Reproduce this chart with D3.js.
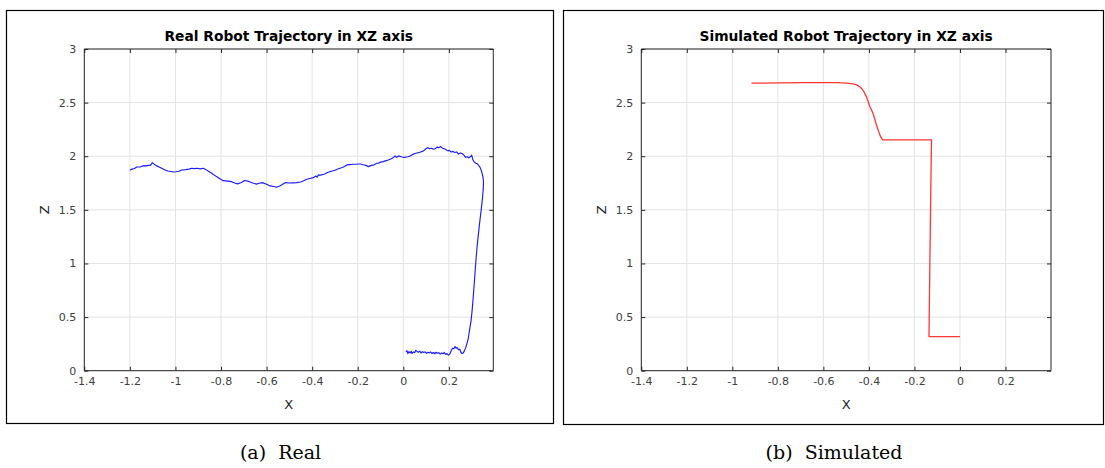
<!DOCTYPE html>
<html>
<head>
<meta charset="utf-8">
<script src="https://cdn.jsdelivr.net/npm/d3@7"></script>
<style>
  html, body { margin: 0; padding: 0; background: #fff; }
  svg { display: block; }
</style>
</head>
<body>
<svg id="chart" width="1105" height="468"></svg>
<script>
// ---- Data ----
const xTicks = [-1.4, -1.2, -1, -0.8, -0.6, -0.4, -0.2, 0, 0.2];
const zTicks = [0, 0.5, 1, 1.5, 2, 2.5, 3];

// Real robot trajectory (X, Z)
const realX = [0.012,0.016,0.020,0.025,0.030,0.035,0.038,0.044,0.050,0.055,0.060,0.066,0.072,0.078,0.084,0.090,0.096,0.102,0.108,0.114,0.120,0.126,0.132,0.138,0.144,0.150,0.156,0.162,0.168,0.174,0.180,0.186,0.192,0.198,0.204,0.208,0.212,0.217,0.222,0.227,0.232,0.237,0.242,0.248,0.253,0.258,0.263,0.268,0.274,0.280,0.285,0.291,0.297,0.302,0.307,0.312,0.316,0.320,0.324,0.329,0.334,0.339,0.344,0.348,0.351,0.352,0.350,0.346,0.340,0.336,0.330,0.325,0.318,0.310,0.305,0.300,0.294,0.287,0.280,0.273,0.266,0.258,0.250,0.242,0.234,0.226,0.218,0.210,0.202,0.196,0.188,0.180,0.172,0.164,0.156,0.148,0.140,0.132,0.124,0.116,0.108,0.100,0.092,0.084,0.076,0.068,0.060,0.052,0.044,0.036,0.028,0.020,0.010,0.000,-0.010,-0.020,-0.030,-0.036,-0.045,-0.055,-0.066,-0.076,-0.088,-0.100,-0.110,-0.117,-0.128,-0.140,-0.154,-0.165,-0.176,-0.187,-0.197,-0.210,-0.222,-0.235,-0.248,-0.258,-0.268,-0.278,-0.290,-0.300,-0.312,-0.322,-0.333,-0.345,-0.355,-0.365,-0.373,-0.378,-0.384,-0.395,-0.410,-0.424,-0.437,-0.450,-0.468,-0.485,-0.500,-0.516,-0.528,-0.540,-0.556,-0.568,-0.585,-0.600,-0.619,-0.632,-0.645,-0.658,-0.670,-0.680,-0.690,-0.699,-0.710,-0.728,-0.740,-0.753,-0.770,-0.790,-0.805,-0.820,-0.841,-0.855,-0.866,-0.878,-0.890,-0.905,-0.918,-0.928,-0.940,-0.955,-0.972,-0.985,-0.997,-1.009,-1.020,-1.033,-1.046,-1.060,-1.072,-1.082,-1.090,-1.101,-1.110,-1.120,-1.130,-1.141,-1.155,-1.170,-1.180,-1.190,-1.200];
const realZ = [0.174,0.187,0.160,0.178,0.165,0.182,0.160,0.175,0.168,0.190,0.180,0.172,0.183,0.165,0.178,0.170,0.176,0.162,0.172,0.166,0.175,0.160,0.170,0.158,0.172,0.163,0.168,0.155,0.166,0.158,0.170,0.152,0.160,0.145,0.155,0.175,0.195,0.210,0.205,0.225,0.210,0.215,0.195,0.200,0.170,0.160,0.165,0.185,0.215,0.260,0.300,0.380,0.460,0.560,0.690,0.830,0.950,1.060,1.160,1.260,1.360,1.450,1.540,1.620,1.700,1.760,1.800,1.840,1.880,1.900,1.915,1.930,1.935,1.950,1.970,2.010,1.995,1.985,1.995,1.990,2.010,2.025,2.030,2.020,2.040,2.035,2.045,2.040,2.055,2.050,2.060,2.070,2.075,2.090,2.080,2.085,2.070,2.065,2.075,2.070,2.080,2.072,2.055,2.045,2.040,2.035,2.030,2.025,2.020,2.010,2.000,1.995,1.992,1.990,1.995,2.003,1.990,2.003,1.985,1.975,1.965,1.959,1.950,1.945,1.935,1.935,1.920,1.915,1.903,1.915,1.920,1.928,1.928,1.925,1.925,1.922,1.919,1.905,1.895,1.888,1.878,1.870,1.862,1.856,1.848,1.835,1.828,1.822,1.826,1.805,1.815,1.800,1.792,1.785,1.772,1.760,1.754,1.752,1.750,1.754,1.740,1.725,1.711,1.718,1.723,1.738,1.754,1.748,1.740,1.748,1.758,1.766,1.772,1.772,1.755,1.742,1.750,1.763,1.768,1.772,1.790,1.810,1.841,1.860,1.875,1.888,1.882,1.888,1.885,1.888,1.880,1.875,1.872,1.860,1.855,1.853,1.858,1.862,1.872,1.888,1.900,1.910,1.920,1.940,1.915,1.915,1.910,1.912,1.900,1.900,1.885,1.880,1.872];

// Simulated robot trajectory (X, Z)
const simX = [-0.916,-0.800,-0.700,-0.601,-0.540,-0.498,-0.470,-0.454,-0.443,-0.433,-0.421,-0.411,-0.396,-0.382,-0.367,-0.352,-0.345,-0.338,-0.250,-0.125,-0.128,-0.131,-0.134,-0.136,-0.100,-0.050,0.000];
const simZ = [2.681,2.684,2.686,2.687,2.686,2.681,2.675,2.665,2.652,2.634,2.598,2.556,2.463,2.401,2.292,2.199,2.168,2.152,2.152,2.152,1.700,1.200,0.700,0.317,0.317,0.317,0.317];

const panels = [
  { box: [6, 10, 553, 423], plot: [84.3, 49, 493.3, 370.7], xDomain: [-1.4, 0.395],
    title: "Real Robot Trajectory in XZ axis", caption: "(a)  Real",
    xs: realX, zs: realZ, color: "#0000ff", width: 1.15 },
  { box: [563, 10, 1103, 424], plot: [641.3, 49, 1051, 370.7], xDomain: [-1.4, 0.4],
    title: "Simulated Robot Trajectory in XZ axis", caption: "(b)  Simulated",
    xs: simX, zs: simZ, color: "#ff2020", width: 1.3 }
];

const svg = d3.select("#chart");
const axisColor = "#262626";
const tickFont = "DejaVu Sans, sans-serif";

panels.forEach(p => {
  const g = svg.append("g");
  const [bx0, by0, bx1, by1] = p.box;
  g.append("rect").attr("x", bx0 + 0.5).attr("y", by0 + 0.5)
    .attr("width", bx1 - bx0).attr("height", by1 - by0)
    .attr("fill", "none").attr("stroke", "#000").attr("stroke-width", 1.2);

  const [px0, py0, px1, py1] = p.plot;
  const x = d3.scaleLinear().domain(p.xDomain).range([px0, px1]);
  const y = d3.scaleLinear().domain([0, 3]).range([py1, py0]);

  // grid
  g.append("g").selectAll("line").data(xTicks).join("line")
    .attr("x1", d => x(d)).attr("x2", d => x(d)).attr("y1", py0).attr("y2", py1)
    .attr("stroke", "#e3e3e3").attr("stroke-width", 1);
  g.append("g").selectAll("line").data(zTicks).join("line")
    .attr("y1", d => y(d)).attr("y2", d => y(d)).attr("x1", px0).attr("x2", px1)
    .attr("stroke", "#e3e3e3").attr("stroke-width", 1);

  // line
  const pts = p.xs.map((v, i) => [v, p.zs[i]]);
  g.append("path").datum(pts)
    .attr("d", d3.line().x(d => x(d[0])).y(d => y(d[1])))
    .attr("fill", "none").attr("stroke", p.color).attr("stroke-width", p.width)
    .attr("stroke-linejoin", "round").attr("opacity", 0.9);

  // axes
  const fmt = d => String(d);
  const xAxis = d3.axisBottom(x).tickValues(xTicks).tickSize(-4).tickPadding(7).tickFormat(fmt);
  const yAxis = d3.axisLeft(y).tickValues(zTicks).tickSize(-4).tickPadding(8).tickFormat(fmt);
  const xTop = d3.axisTop(x).tickValues(xTicks).tickSize(-4).tickFormat("");
  const yRight = d3.axisRight(y).tickValues(zTicks).tickSize(-4).tickFormat("");

  const styleAxis = sel => {
    sel.selectAll("path").attr("stroke", axisColor).attr("stroke-width", 1);
    sel.selectAll("line").attr("stroke", axisColor).attr("stroke-width", 1);
    sel.selectAll("text").attr("fill", "#404040").style("font-family", tickFont).style("font-size", "11px");
  };
  g.append("g").attr("transform", `translate(0,${py1})`).call(xAxis).call(styleAxis)
    .call(s => s.select(".domain").attr("d", `M${px0},0H${px1}`));
  g.append("g").attr("transform", `translate(${px0},0)`).call(yAxis).call(styleAxis)
    .call(s => s.select(".domain").attr("d", `M0,${py0}V${py1}`));
  g.append("g").attr("transform", `translate(0,${py0})`).call(xTop).call(styleAxis)
    .call(s => s.select(".domain").attr("d", `M${px0},0H${px1}`));
  g.append("g").attr("transform", `translate(${px1},0)`).call(yRight).call(styleAxis)
    .call(s => s.select(".domain").attr("d", `M0,${py0}V${py1}`));

  // title
  g.append("text").attr("x", (px0 + px1) / 2).attr("y", py0 - 8)
    .attr("text-anchor", "middle").style("font-family", tickFont)
    .style("font-weight", "bold").style("font-size", "13.8px").attr("fill", "#000")
    .text(p.title);
  // axis labels
  g.append("text").attr("x", (px0 + px1) / 2).attr("y", py1 + 38)
    .attr("text-anchor", "middle").style("font-family", tickFont)
    .style("font-size", "13px").attr("fill", "#262626").text("X");
  g.append("text").attr("transform", `translate(${px0 - 35},${(py0 + py1) / 2}) rotate(-90)`)
    .attr("text-anchor", "middle").style("font-family", tickFont)
    .style("font-size", "13px").attr("fill", "#262626").text("Z");
  // caption
  g.append("text").attr("x", (bx0 + bx1) / 2 + 1).attr("y", 459)
    .attr("text-anchor", "middle").style("font-family", "DejaVu Serif, serif")
    .style("font-size", "19px").attr("fill", "#000").style("white-space", "pre")
    .text(p.caption);
});
</script>
</body>
</html>
